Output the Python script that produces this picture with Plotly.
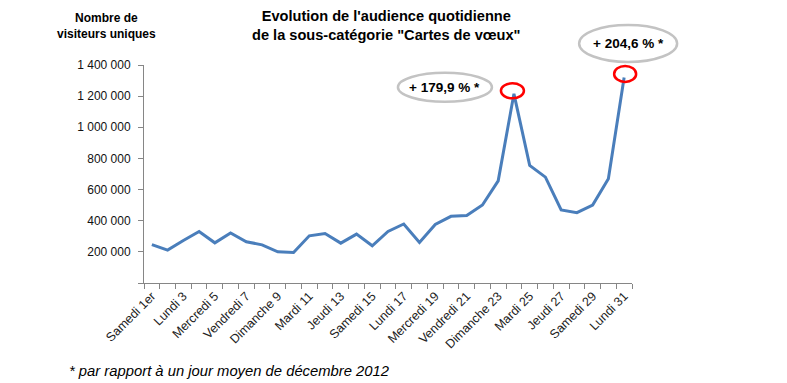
import plotly.graph_objects as go

days = ["Samedi 1er", "Dimanche 2", "Lundi 3", "Mardi 4", "Mercredi 5", "Jeudi 6", "Vendredi 7",
        "Samedi 8", "Dimanche 9", "Lundi 10", "Mardi 11", "Mercredi 12", "Jeudi 13", "Vendredi 14",
        "Samedi 15", "Dimanche 16", "Lundi 17", "Mardi 18", "Mercredi 19", "Jeudi 20", "Vendredi 21",
        "Samedi 22", "Dimanche 23", "Lundi 24", "Mardi 25", "Mercredi 26", "Jeudi 27", "Vendredi 28",
        "Samedi 29", "Dimanche 30", "Lundi 31"]
visitors = [247000, 211000, 273000, 331000, 258000, 321000, 265000,
            245000, 200000, 196000, 303000, 318000, 256000, 314000,
            239000, 331000, 379000, 260000, 376000, 428000, 434000,
            501000, 656000, 1215000, 755000, 680000, 469000, 452000,
            501000, 669000, 1320000]
y_ticks = [0, 200000, 400000, 600000, 800000, 1000000, 1200000, 1400000]
y_tick_text = ["", "200 000", "400 000", "600 000", "800 000", "1 000 000", "1 200 000", "1 400 000"]
peak_labels = ["+ 179,9 % *", "+ 204,6 % *"]
peak_days = [23, 30]

x_idx = list(range(len(days)))
label_idx = x_idx[::2]
label_txt = [days[i] for i in label_idx]
Y_MAX = 1400000

L, R, T, B = 144, 155, 65, 99.5
W, H = 787, 383
pw = W - L - R
ph = H - T - B

FONT = "Liberation Sans, Arial"

fig = go.Figure()
fig.add_trace(go.Scatter(x=x_idx, y=visitors, mode="lines",
                         line=dict(color="#4a7ebb", width=3), hoverinfo="skip"))

def px(xp):
    return (xp - L) / pw

def py(yp):
    return (H - B - yp) / ph

# ellipses & red circles relative to peaks (pixel offsets), paper refs so they are not clipped
ell_cfg = [dict(dx=-69, dy=6.5, w=94, h=29), dict(dx=4, dy=34, w=98, h=37)]
red_cfg = [dict(dx=-1.5, dy=3, w=23, h=15), dict(dx=1, dy=3.5, w=22, h=16)]
shapes = []
annotations = []
for k, (pi, lab) in enumerate(zip(peak_days, peak_labels)):
    xa = (pi + 0.5) / len(days)
    ya = visitors[pi] / Y_MAX
    e = ell_cfg[k]
    shapes.append(dict(type="circle", xref="paper", yref="paper", xsizemode="pixel", ysizemode="pixel",
                       xanchor=xa, yanchor=ya,
                       x0=e["dx"] - e["w"] / 2, x1=e["dx"] + e["w"] / 2,
                       y0=e["dy"] - e["h"] / 2, y1=e["dy"] + e["h"] / 2,
                       line=dict(color="#c3c3c3", width=2.5), fillcolor="white", layer="above"))
    c = red_cfg[k]
    shapes.append(dict(type="circle", xref="paper", yref="paper", xsizemode="pixel", ysizemode="pixel",
                       xanchor=xa, yanchor=ya,
                       x0=c["dx"] - c["w"] / 2, x1=c["dx"] + c["w"] / 2,
                       y0=c["dy"] - c["h"] / 2, y1=c["dy"] + c["h"] / 2,
                       line=dict(color="#ff0000", width=2.5), layer="above"))
    annotations.append(dict(x=xa, y=ya, xref="paper", yref="paper", text="<b>" + lab + "</b>",
                            showarrow=False, xshift=e["dx"], yshift=e["dy"],
                            xanchor="center", yanchor="middle",
                            font=dict(family=FONT, size=13.5, color="black")))

annotations.append(dict(x=px(386), y=py(25), xref="paper", yref="paper", showarrow=False,
                        text="<b>Evolution de l'audience quotidienne<br>de la sous-catégorie \"Cartes de vœux\"</b>",
                        font=dict(family=FONT, size=14.6, color="black"),
                        xanchor="center", yanchor="middle", align="center"))
annotations.append(dict(x=px(106.5), y=py(25.5), xref="paper", yref="paper", showarrow=False,
                        text="<b>Nombre de<br>visiteurs uniques</b>",
                        font=dict(family=FONT, size=12, color="black"),
                        xanchor="center", yanchor="middle", align="center"))
annotations.append(dict(x=px(67), y=py(372), xref="paper", yref="paper", showarrow=False,
                        text="<i>* par rapport à un jour moyen de décembre 2012</i>",
                        font=dict(family=FONT, size=14.8, color="black"),
                        xanchor="left", yanchor="middle", align="left"))

fig.update_layout(
    width=W, height=H,
    margin=dict(l=L, r=R, t=T, b=B, pad=0),
    plot_bgcolor="white", paper_bgcolor="white",
    showlegend=False,
    shapes=shapes, annotations=annotations,
    xaxis=dict(range=[-0.5, len(days) - 0.5], tickmode="array", tickvals=label_idx, ticktext=label_txt,
               tickangle=-45, ticks="", showgrid=False, zeroline=False,
               showline=True, linecolor="#868686", linewidth=1,
               tickfont=dict(family=FONT, size=12.5, color="#222222"),
               minor=dict(ticks="outside", tick0=-0.5, dtick=1, ticklen=5, tickcolor="#868686", showgrid=False)),
    yaxis=dict(range=[0, Y_MAX], tickmode="array", tickvals=y_ticks, ticktext=y_tick_text,
               ticks="outside", ticklen=5, tickcolor="#868686", showgrid=False, zeroline=False,
               showline=True, linecolor="#868686", linewidth=1, ticklabelstandoff=5,
               tickfont=dict(family=FONT, size=12, color="#111111")),
)

fig.write_html("out.html", config={"displayModeBar": False},
               post_script="document.body.style.margin='0';document.body.style.overflow='hidden';")
